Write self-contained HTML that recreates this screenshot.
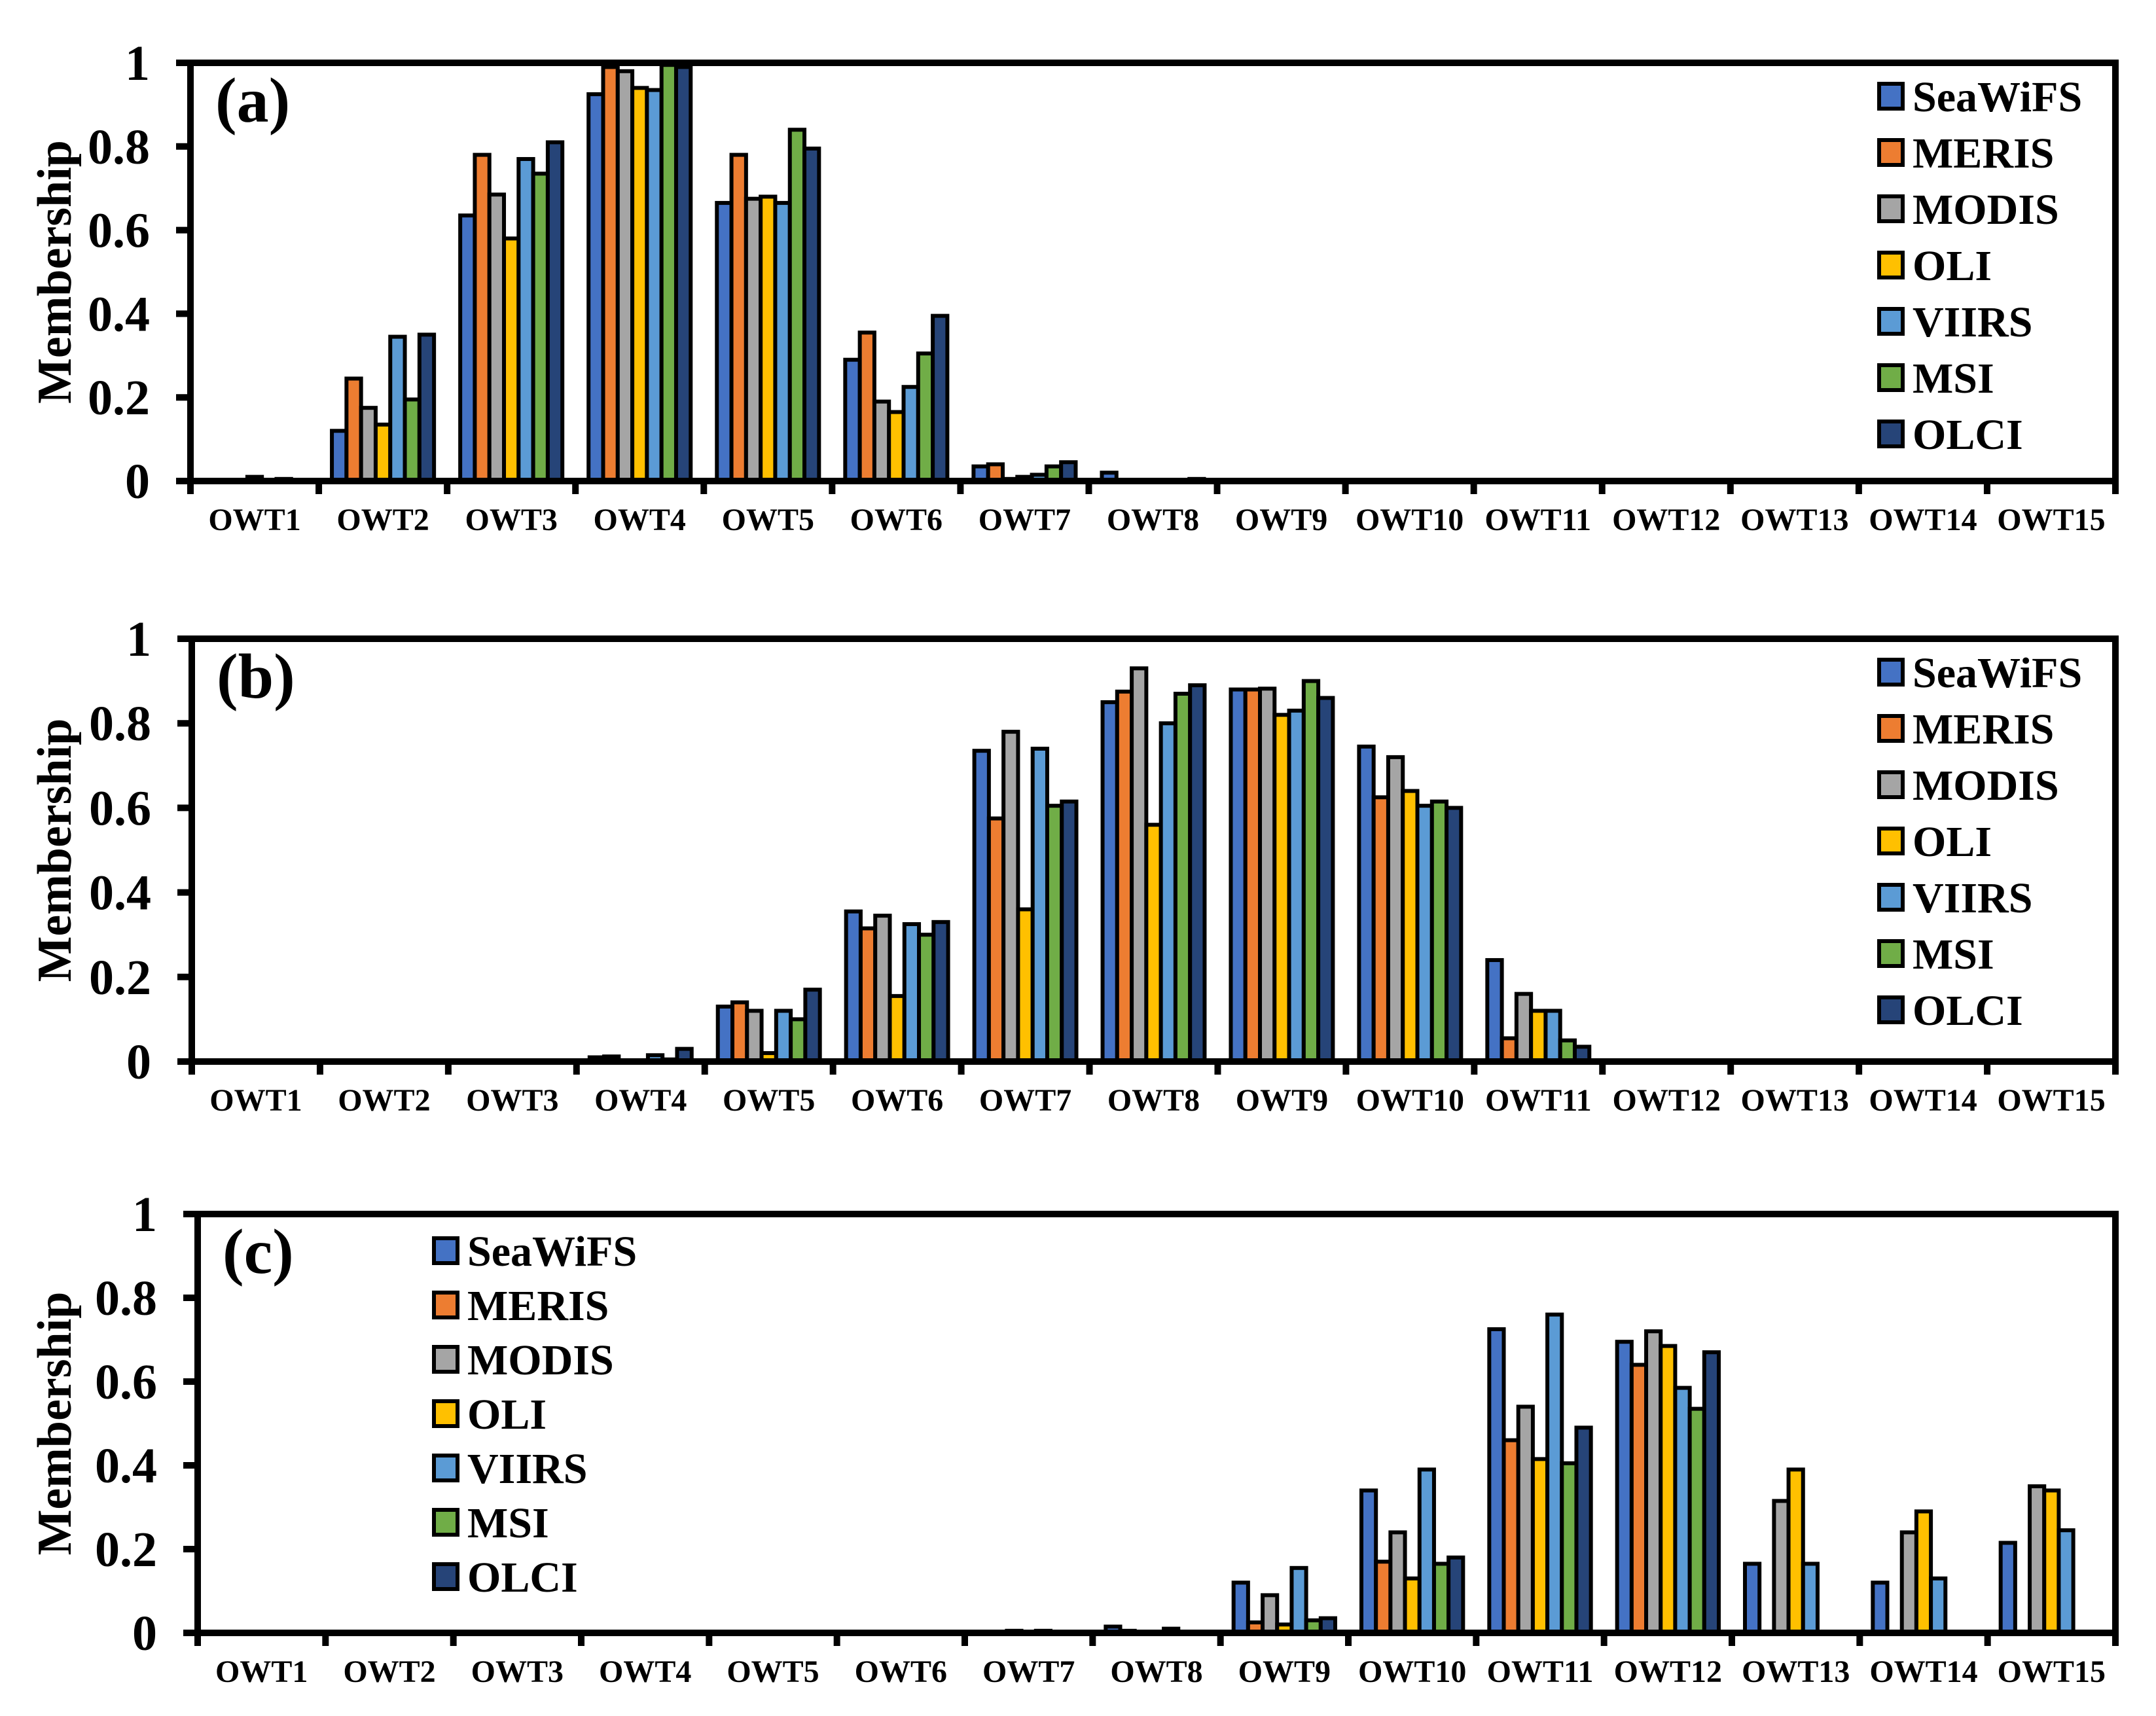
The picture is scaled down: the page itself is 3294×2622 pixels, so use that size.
<!DOCTYPE html>
<html><head><meta charset="utf-8">
<style>
html,body{margin:0;padding:0;background:#fff;}
svg text{font-family:"Liberation Serif","Times New Roman",serif;font-weight:bold;fill:#000;}
</style></head>
<body>
<svg id="chart" width="3294" height="2617" viewBox="0 0 3294 2617" xmlns="http://www.w3.org/2000/svg"></svg>
<script>
const categories = ["OWT1","OWT2","OWT3","OWT4","OWT5","OWT6","OWT7","OWT8","OWT9","OWT10","OWT11","OWT12","OWT13","OWT14","OWT15"];
const seriesNames = ["SeaWiFS","MERIS","MODIS","OLI","VIIRS","MSI","OLCI"];
const seriesColors = ["#4472c4","#ed7d31","#a5a5a5","#ffc000","#5b9bd5","#70ad47","#264478"];
const yTicks = [0,0.2,0.4,0.6,0.8,1];
const yTickLabels = ["0","0.2","0.4","0.6","0.8","1"];
const valuesA = [
 [0,0.12,0.635,0.925,0.665,0.29,0.035,0.02,0,0,0,0,0,0,0],
 [0,0.245,0.78,0.99,0.78,0.355,0.04,0,0,0,0,0,0,0,0],
 [0,0.175,0.685,0.98,0.675,0.19,0.005,0,0,0,0,0,0,0,0],
 [0.01,0.135,0.58,0.94,0.68,0.165,0.01,0,0,0,0,0,0,0,0],
 [0,0.345,0.77,0.935,0.665,0.225,0.015,0,0,0,0,0,0,0,0],
 [0.005,0.195,0.735,0.995,0.84,0.305,0.035,0,0,0,0,0,0,0,0],
 [0,0.35,0.81,0.99,0.795,0.395,0.045,0.005,0,0,0,0,0,0,0]
];
const valuesB = [
 [0,0,0,0.01,0.13,0.355,0.735,0.85,0.88,0.745,0.24,0,0,0,0],
 [0,0,0,0.012,0.14,0.315,0.575,0.875,0.88,0.625,0.055,0,0,0,0],
 [0,0,0,0,0.12,0.345,0.78,0.93,0.882,0.72,0.16,0,0,0,0],
 [0,0,0,0,0.02,0.155,0.36,0.56,0.82,0.64,0.12,0,0,0,0],
 [0,0,0,0.015,0.12,0.325,0.74,0.8,0.83,0.605,0.12,0,0,0,0],
 [0,0,0,0.005,0.1,0.3,0.605,0.87,0.9,0.615,0.05,0,0,0,0],
 [0,0,0,0.03,0.17,0.33,0.615,0.89,0.86,0.6,0.035,0,0,0,0]
];
const valuesC = [
 [0,0,0,0,0,0,0,0.015,0.12,0.34,0.725,0.695,0.165,0.12,0.215],
 [0,0,0,0,0,0,0,0.005,0.025,0.17,0.46,0.64,0,0,0],
 [0,0,0,0,0,0,0.005,0,0.09,0.24,0.54,0.72,0.315,0.24,0.35],
 [0,0,0,0,0,0,0,0,0.02,0.13,0.415,0.685,0.39,0.29,0.34],
 [0,0,0,0,0,0,0.005,0.01,0.155,0.39,0.76,0.585,0.165,0.13,0.245],
 [0,0,0,0,0,0,0,0,0.03,0.165,0.405,0.535,0,0,0],
 [0,0,0,0,0,0,0,0,0.035,0.18,0.49,0.67,0,0,0]
];
const panelLabels = ["(a)","(b)","(c)"];

const NS = "http://www.w3.org/2000/svg";
const svg = document.getElementById("chart");
function mk(tag, attrs, parent){
  const e = document.createElementNS(NS, tag);
  for (const k in attrs) e.setAttribute(k, attrs[k]);
  (parent||svg).appendChild(e);
  return e;
}
const panels = [
 {vals:valuesA, left:291, right:3232, top:96, zero:735, legX:2871, legY:147, legStep:86},
 {vals:valuesB, left:293, right:3232, top:976, zero:1622, legX:2871, legY:1027, legStep:86},
 {vals:valuesC, left:302, right:3232, top:1855, zero:2495, legX:663, legY:1911, legStep:83}
];
panels.forEach((p, pi) => {
  const g = mk("g", {});
  
  
  const step = (p.right - p.left) / categories.length;
  const xScale = i => p.left + i * step;
  const yScale = v => p.zero - v * (p.zero - p.top);
  const barW = (step - 40) / 7;
  p.vals.forEach((row, si) => {
    row.forEach((v, ci) => {
      if (v <= 0) return;
      const x = xScale(ci) + 20 + si * barW;
      const y = yScale(v);
      const r = mk("rect", {x:x, y:y, width:barW, height:p.zero - y, fill:seriesColors[si], stroke:"#000", "stroke-width":6}, g);
      
      
    });
  });
  const fr = mk("rect", {x:p.left, y:p.top, width:p.right - p.left, height:p.zero - p.top, fill:"none", stroke:"#000", "stroke-width":10}, g);
  
  
  yTicks.forEach((t, ti) => {
    const y = yScale(t);
    mk("line", {x1:p.left - 22, x2:p.left, y1:y, y2:y, stroke:"#000", "stroke-width":10}, g);
    const tx = mk("text", {x:p.left - 62, y:y + 26, "font-size":76, "text-anchor":"end"}, g);
    tx.textContent = yTickLabels[ti];
    
    
  });
  for (let i = 0; i <= categories.length; i++) {
    const x = xScale(i);
    mk("line", {x1:x, x2:x, y1:p.zero, y2:p.zero + 20, stroke:"#000", "stroke-width":10}, g);
  }
  categories.forEach((c, ci) => {
    const tx = mk("text", {x:xScale(ci) + step / 2, y:p.zero + 75, "font-size":48, "text-anchor":"middle"}, g);
    tx.textContent = c;
    
    
  });
  const cy = (p.top + p.zero) / 2;
  const yt = mk("text", {x:0, y:0, "font-size":74, "text-anchor":"middle", transform:"translate(108," + cy + ") rotate(-90)"}, g);
  yt.textContent = "Membership";
  
  
  const pl = mk("text", {x:p.left + 38, y:p.top + 90, "font-size":98}, g);
  pl.textContent = panelLabels[pi];
  
  
  seriesNames.forEach((n, si) => {
    const cyl = p.legY + si * p.legStep;
    const lg = mk("g", {}, g);
    
    
    mk("rect", {x:p.legX, y:cyl - 19, width:36, height:38, fill:seriesColors[si], stroke:"#000", "stroke-width":6}, lg);
    const lt = mk("text", {x:p.legX + 51, y:cyl + 23, "font-size":66}, lg);
    lt.textContent = n;
  });
});
</script>
</body></html>
